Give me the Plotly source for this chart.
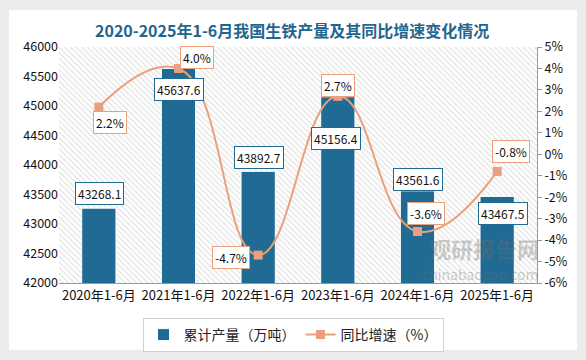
import plotly.graph_objects as go

categories = ["2020年1-6月", "2021年1-6月", "2022年1-6月", "2023年1-6月", "2024年1-6月", "2025年1-6月"]
output_wt = [43268.1, 45637.6, 43892.7, 45156.4, 43561.6, 43467.5]
growth_pct = [2.2, 4.0, -4.7, 2.7, -3.6, -0.8]
left_ticks = [42000, 42500, 43000, 43500, 44000, 44500, 45000, 45500, 46000]
right_ticks = list(range(-6, 6))

BLUE = "#1f6b93"
ORANGE = "#eb9f7c"
FONT = "Noto Sans CJK SC"

# label offsets (px) to reproduce the chart's label placement
bar_label_shift = [15, -21, 14, -42, 11, -17]
bar_label_xshift = [1, 0, 1, -2, 0, 6]
pct_label_shift = [(-15, 11), (11, 18), (-2, -27), (11, 0), (18, 8), (20, 14)]

fig = go.Figure()

# hatched plot-area background
fig.add_trace(go.Scatter(
    x=[0, 1, 1, 0, 0], y=[0, 0, 1, 1, 0], mode="lines", fill="toself",
    line=dict(width=0), fillcolor="white",
    fillpattern=dict(shape="\\", fgcolor="#c4c4c4", bgcolor="white", size=4, solidity=0.3),
    hoverinfo="skip", showlegend=False, xaxis="x", yaxis="y"))

fig.add_trace(go.Bar(
    x=categories, y=output_wt, name="累计产量（万吨）",
    marker=dict(color=BLUE, line=dict(color="white", width=1)),
    width=0.43, xaxis="x2", yaxis="y2"))

fig.add_trace(go.Scatter(
    x=categories, y=growth_pct, name="同比增速（%）", mode="lines+markers",
    line=dict(color=ORANGE, width=2, shape="spline", smoothing=1.3),
    marker=dict(symbol="square", size=9, color=ORANGE),
    xaxis="x2", yaxis="y3"))

annotations = []
for i, (c, v) in enumerate(zip(categories, output_wt)):
    annotations.append(dict(
        x=c, y=v, xref="x2", yref="y2", text=f"{v:.1f}", showarrow=False,
        yshift=bar_label_shift[i], xshift=bar_label_xshift[i],
        xanchor="center", yanchor="middle",
        font=dict(family=FONT, size=12, color="#111"),
        bgcolor="white", bordercolor=BLUE, borderwidth=1, borderpad=2))
for i, (c, v) in enumerate(zip(categories, growth_pct)):
    annotations.append(dict(
        x=c, y=v, xref="x2", yref="y3", text=f"{v:.1f}%", showarrow=False,
        yshift=pct_label_shift[i][0], xshift=pct_label_shift[i][1],
        xanchor="center", yanchor="middle",
        font=dict(family=FONT, size=12, color="#111"),
        bgcolor="white", bordercolor=ORANGE, borderwidth=1, borderpad=2))

L, R, T, B = 59, 49, 47, 77
W, H = 586, 360
pw, ph = W - L - R, H - T - B

def px_x(px):
    return (px - L) / pw

def px_y(py):
    return (H - B - py) / ph

# title
annotations.append(dict(
    x=px_x(292), y=px_y(30), xref="paper", yref="paper", xanchor="center", yanchor="middle",
    text="<b>2020-2025年1-6月我国生铁产量及其同比增速变化情况</b>",
    showarrow=False, font=dict(family=FONT, size=16, color="#1f6690")))
# watermark
annotations.append(dict(
    x=px_x(484), y=px_y(248), xref="paper", yref="paper", xanchor="center", yanchor="middle",
    text="<b>观研报告网</b>", showarrow=False,
    font=dict(family=FONT, size=22, color="rgba(110,110,110,0.35)")))
annotations.append(dict(
    x=px_x(480), y=px_y(274), xref="paper", yref="paper", xanchor="center", yanchor="middle",
    text="chinabaogao.com", showarrow=False,
    font=dict(family=FONT, size=14, color="rgba(110,110,110,0.35)")))

fig.update_layout(
    width=W, height=H,
    margin=dict(l=L, r=R, t=T, b=B, autoexpand=False),
    paper_bgcolor="#ececec",
    plot_bgcolor="white",
    font=dict(family=FONT, size=12, color="#222"),
    showlegend=True,
    legend=dict(orientation="h", x=px_x(293), xanchor="center",
                y=px_y(318), yanchor="top",
                bordercolor="#d0d0d0", borderwidth=1, bgcolor="white",
                font=dict(family=FONT, size=14, color="#222"),
                itemwidth=30),
    xaxis=dict(range=[0, 1], visible=False, fixedrange=True),
    yaxis=dict(range=[0, 1], visible=False, fixedrange=True),
    xaxis2=dict(overlaying="x", type="category", showgrid=False, showline=True,
                linecolor="#999", linewidth=1, ticks="", tickfont=dict(size=13, color="#111"),
                range=[-0.5, 5.5], automargin=False),
    yaxis2=dict(overlaying="y", side="left", range=[42000, 46000], tickvals=left_ticks,
                ticktext=[str(t) for t in left_ticks], automargin=False,
                showgrid=False, zeroline=False, showline=False, ticks="",
                tickfont=dict(size=12.5, color="#111")),
    yaxis3=dict(overlaying="y", side="right", range=[-6, 5], tickvals=right_ticks,
                ticktext=[f"{t}%" for t in right_ticks], automargin=False,
                showgrid=False, zeroline=False, showline=True, linecolor="#999",
                ticks="outside", ticklen=4, tickcolor="#999",
                tickfont=dict(size=12.5, color="#111")),
    annotations=annotations,
    shapes=[dict(type="rect", xref="paper", yref="paper",
                 x0=px_x(9), x1=px_x(577), y0=px_y(350), y1=px_y(10),
                 fillcolor="white", line=dict(width=0), layer="below")],
)

fig.write_html("out.html", config={"displayModeBar": False},
               post_script="document.body.style.margin='0';document.body.style.overflow='hidden';")
